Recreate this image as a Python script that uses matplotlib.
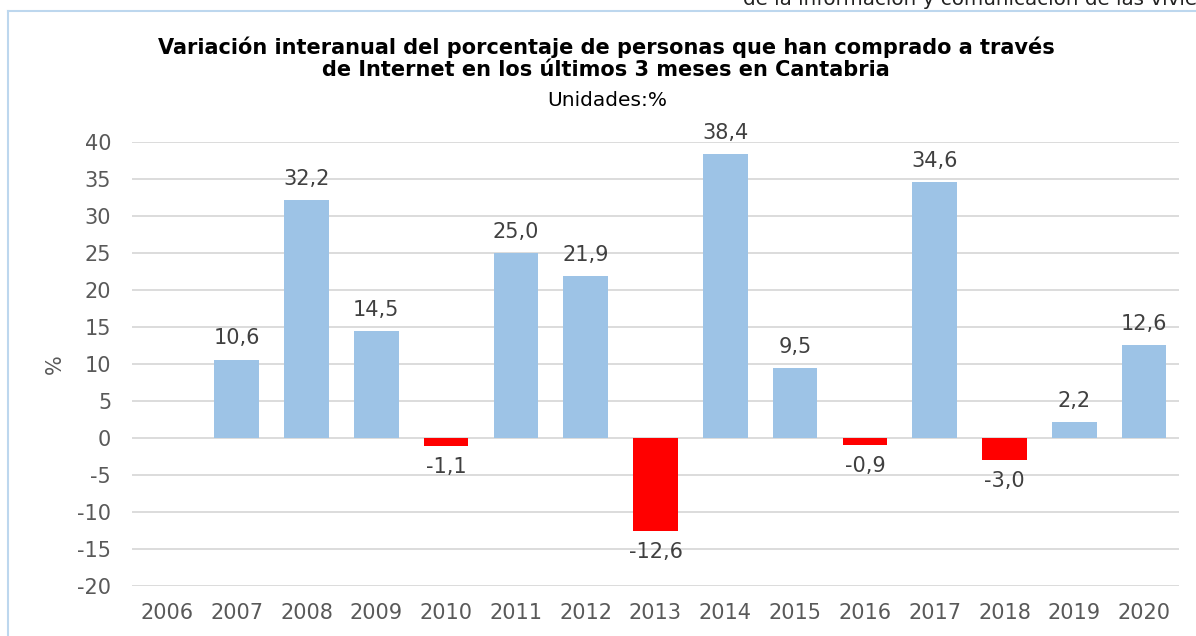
import matplotlib.pyplot as plt
import numpy as np
from matplotlib.lines import Line2D

# datos
years = ['2006', '2007', '2008', '2009', '2010', '2011', '2012', '2013',
         '2014', '2015', '2016', '2017', '2018', '2019', '2020']
values = [np.nan, 10.6, 32.2, 14.5, -1.1, 25.0, 21.9, -12.6,
          38.4, 9.5, -0.9, 34.6, -3.0, 2.2, 12.6]
yticks = [40, 35, 30, 25, 20, 15, 10, 5, 0, -5, -10, -15, -20]

blue = '#9DC3E6'
red = '#FF0000'
grey = '#595959'

plt.rcParams['font.family'] = ['DejaVu Sans']

fig = plt.figure(figsize=(11.96, 6.36), dpi=100)
ax = fig.add_axes([132 / 1196, 1 - 586 / 636, (1179 - 132) / 1196, (586 - 142) / 636])

x = np.arange(len(years))
colors = [red if (not np.isnan(v) and v < 0) else blue for v in values]
ax.bar(x, np.nan_to_num(values), width=0.64, color=colors, zorder=3)

for xi, v in zip(x, values):
    if np.isnan(v):
        continue
    label = f'{v:.1f}'.replace('.', ',')
    if v >= 0:
        ax.annotate(label, (xi, v), xytext=(0, 8), textcoords='offset points',
                    ha='center', va='bottom', fontsize=15, color='#404040')
    else:
        ax.annotate(label, (xi, v), xytext=(0, -8), textcoords='offset points',
                    ha='center', va='top', fontsize=15, color='#404040')

ax.set_xlim(-0.5, len(years) - 0.5)
ax.set_ylim(-20, 40)
ax.set_yticks(yticks)
ax.set_yticklabels([str(t) for t in yticks])
ax.set_xticks(x)
ax.set_xticklabels(years)
ax.tick_params(axis='both', length=0, labelsize=15, colors=grey)
ax.tick_params(axis='y', pad=15)
ax.tick_params(axis='x', pad=12)
ax.grid(axis='y', color='#D9D9D9', linewidth=1.3, zorder=0)
for s in ax.spines.values():
    s.set_visible(False)

ax.set_ylabel('%', fontsize=15, color=grey, labelpad=9)

fig.text(606 / 1196, 1 - 58 / 636, 'Variación interanual del porcentaje de personas que han comprado a través\n'
         'de Internet en los últimos 3 meses en Cantabria',
         ha='center', va='center', fontsize=15, fontweight='bold', linespacing=1.15)
fig.text(607 / 1196, 1 - 100 / 636, 'Unidades:%', ha='center', va='center', fontsize=14.5)

fig.text(743 / 1196, 1 - 5 / 636, 'de la información y comunicación de las viviendas',
         ha='left', va='baseline', fontsize=14.3, color='#222222')

# marco
fig.add_artist(Line2D([8 / 1196, 8 / 1196], [0, 1 - 11 / 636], color='#BDD7EE', lw=1.5))
fig.add_artist(Line2D([8 / 1196, 1], [1 - 11 / 636, 1 - 11 / 636], color='#BDD7EE', lw=1.5))

fig.savefig('out.png', dpi=100)
